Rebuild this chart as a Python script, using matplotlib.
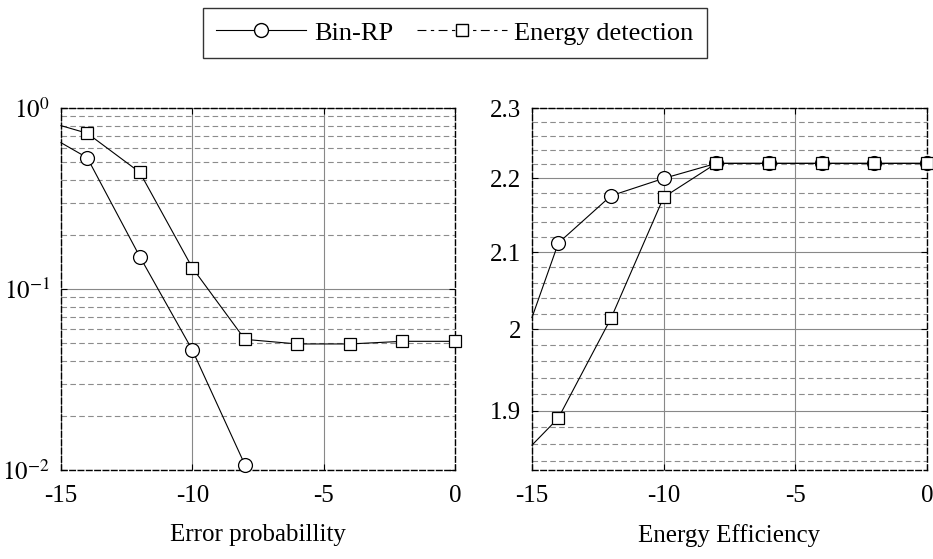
import numpy as np
import matplotlib
matplotlib.use('Agg')
import matplotlib.pyplot as plt
from matplotlib.lines import Line2D
from matplotlib.ticker import FixedLocator, NullFormatter

plt.rcParams['font.family'] = ['Liberation Serif', 'DejaVu Serif']
plt.rcParams['mathtext.fontset'] = 'stix'

# data (first point at -15 has no marker)
snr = [-15, -14, -12, -10, -8, -6, -4, -2, 0]
err_binrp = [0.643, 0.531, 0.151, 0.046, 0.0107]
err_energy = [0.799, 0.725, 0.441, 0.131, 0.0527, 0.0497, 0.0497, 0.0514, 0.0514]
eff_binrp = [2.015, 2.112, 2.176, 2.200, 2.221, 2.221, 2.221, 2.221, 2.221]
eff_energy = [1.859, 1.891, 2.014, 2.174, 2.221, 2.221, 2.221, 2.221, 2.221]

xticks = [-15, -10, -5, 0]
xticklabels = ['-15', '-10', '-5', '0']
err_yticks = [1e-2, 1e-1, 1e0]
err_yticklabels = ['$10^{-2}$', '$10^{-1}$', '$10^{0}$']
eff_yticks = [1.9, 2.0, 2.1, 2.2, 2.3]
eff_yticklabels = ['1.9', '2', '2.1', '2.2', '2.3']

fs = 18
W, H = 933, 559
fig = plt.figure(figsize=(W / 100, H / 100), dpi=100)
ax1 = fig.add_axes([61 / W, 1 - 470 / H, (455 - 61) / W, (470 - 108) / H])
ax2 = fig.add_axes([532 / W, 1 - 470 / H, (927 - 532) / W, (470 - 108) / H])

line_kw = dict(color='black', lw=0.8, mfc='white', mec='black', mew=0.9,
               markevery=slice(1, None), clip_on=False, zorder=5)

ax1.plot(snr[:len(err_binrp)], err_binrp, marker='o', ms=10, **line_kw)
ax1.plot(snr, err_energy, marker='s', ms=9, **line_kw)
ax2.plot(snr, eff_binrp, marker='o', ms=10, **line_kw)
ax2.plot(snr, eff_energy, marker='s', ms=9, **line_kw)

for ax in (ax1, ax2):
    ax.set_yscale('log')
    ax.set_xlim(-15, 0)
    ax.set_xticks(xticks)
    ax.set_xticklabels(xticklabels)
    ax.grid(True, which='major', axis='both', color='#888888', lw=0.8, ls='-')
    ax.grid(True, which='minor', axis='y', color='#8c8c8c', lw=0.8, ls=(0, (5, 3)))
    for sp in ax.spines.values():
        sp.set_linestyle((0, (4, 2)))
        sp.set_linewidth(1.0)
    ax.tick_params(which='major', direction='in', length=4, width=0.8,
                   right=True, top=True, labelsize=fs)
    ax.tick_params(axis='x', pad=11)
    ax.tick_params(axis='y', pad=8)
    ax.tick_params(which='minor', length=0)
    ax.set_axisbelow(True)

ax1.set_ylim(1e-2, 1)
ax1.set_yticks(err_yticks)
ax1.set_yticklabels(err_yticklabels)
ax1.yaxis.set_minor_locator(FixedLocator([m * d for d in (1e-2, 1e-1) for m in range(2, 10)]))
ax1.yaxis.set_minor_formatter(NullFormatter())
ax1.set_xlabel('Error probabillity', fontsize=fs, labelpad=12)

ax2.set_ylim(1.83, 2.3)
ax2.set_yticks(eff_yticks)
ax2.set_yticklabels(eff_yticklabels)
ax2.yaxis.set_minor_locator(FixedLocator([v for v in np.arange(1.84, 2.3, 0.02)
                                          if abs(v * 10 - round(v * 10)) > 1e-6]))
ax2.yaxis.set_minor_formatter(NullFormatter())
ax2.set_xlabel('Energy Efficiency', fontsize=fs, labelpad=12)

handles = [
    Line2D([], [], color='black', lw=0.8, marker='o', ms=10, mfc='white', mec='black'),
    Line2D([], [], color='black', lw=0.8, ls=(0, (8, 4, 3, 4)), marker='s', ms=9,
           mfc='white', mec='black'),
]
leg = fig.legend(handles, ['Bin-RP', 'Energy detection'], loc='upper center',
                 bbox_to_anchor=(455 / W, 1 - 8 / H), ncol=2, fontsize=19,
                 frameon=True, fancybox=False, edgecolor='black',
                 handlelength=3.4, handletextpad=0.3, columnspacing=0.9,
                 borderpad=0.5, borderaxespad=0)
leg.get_frame().set_linewidth(1.0)

fig.savefig('out.png', dpi=100)
